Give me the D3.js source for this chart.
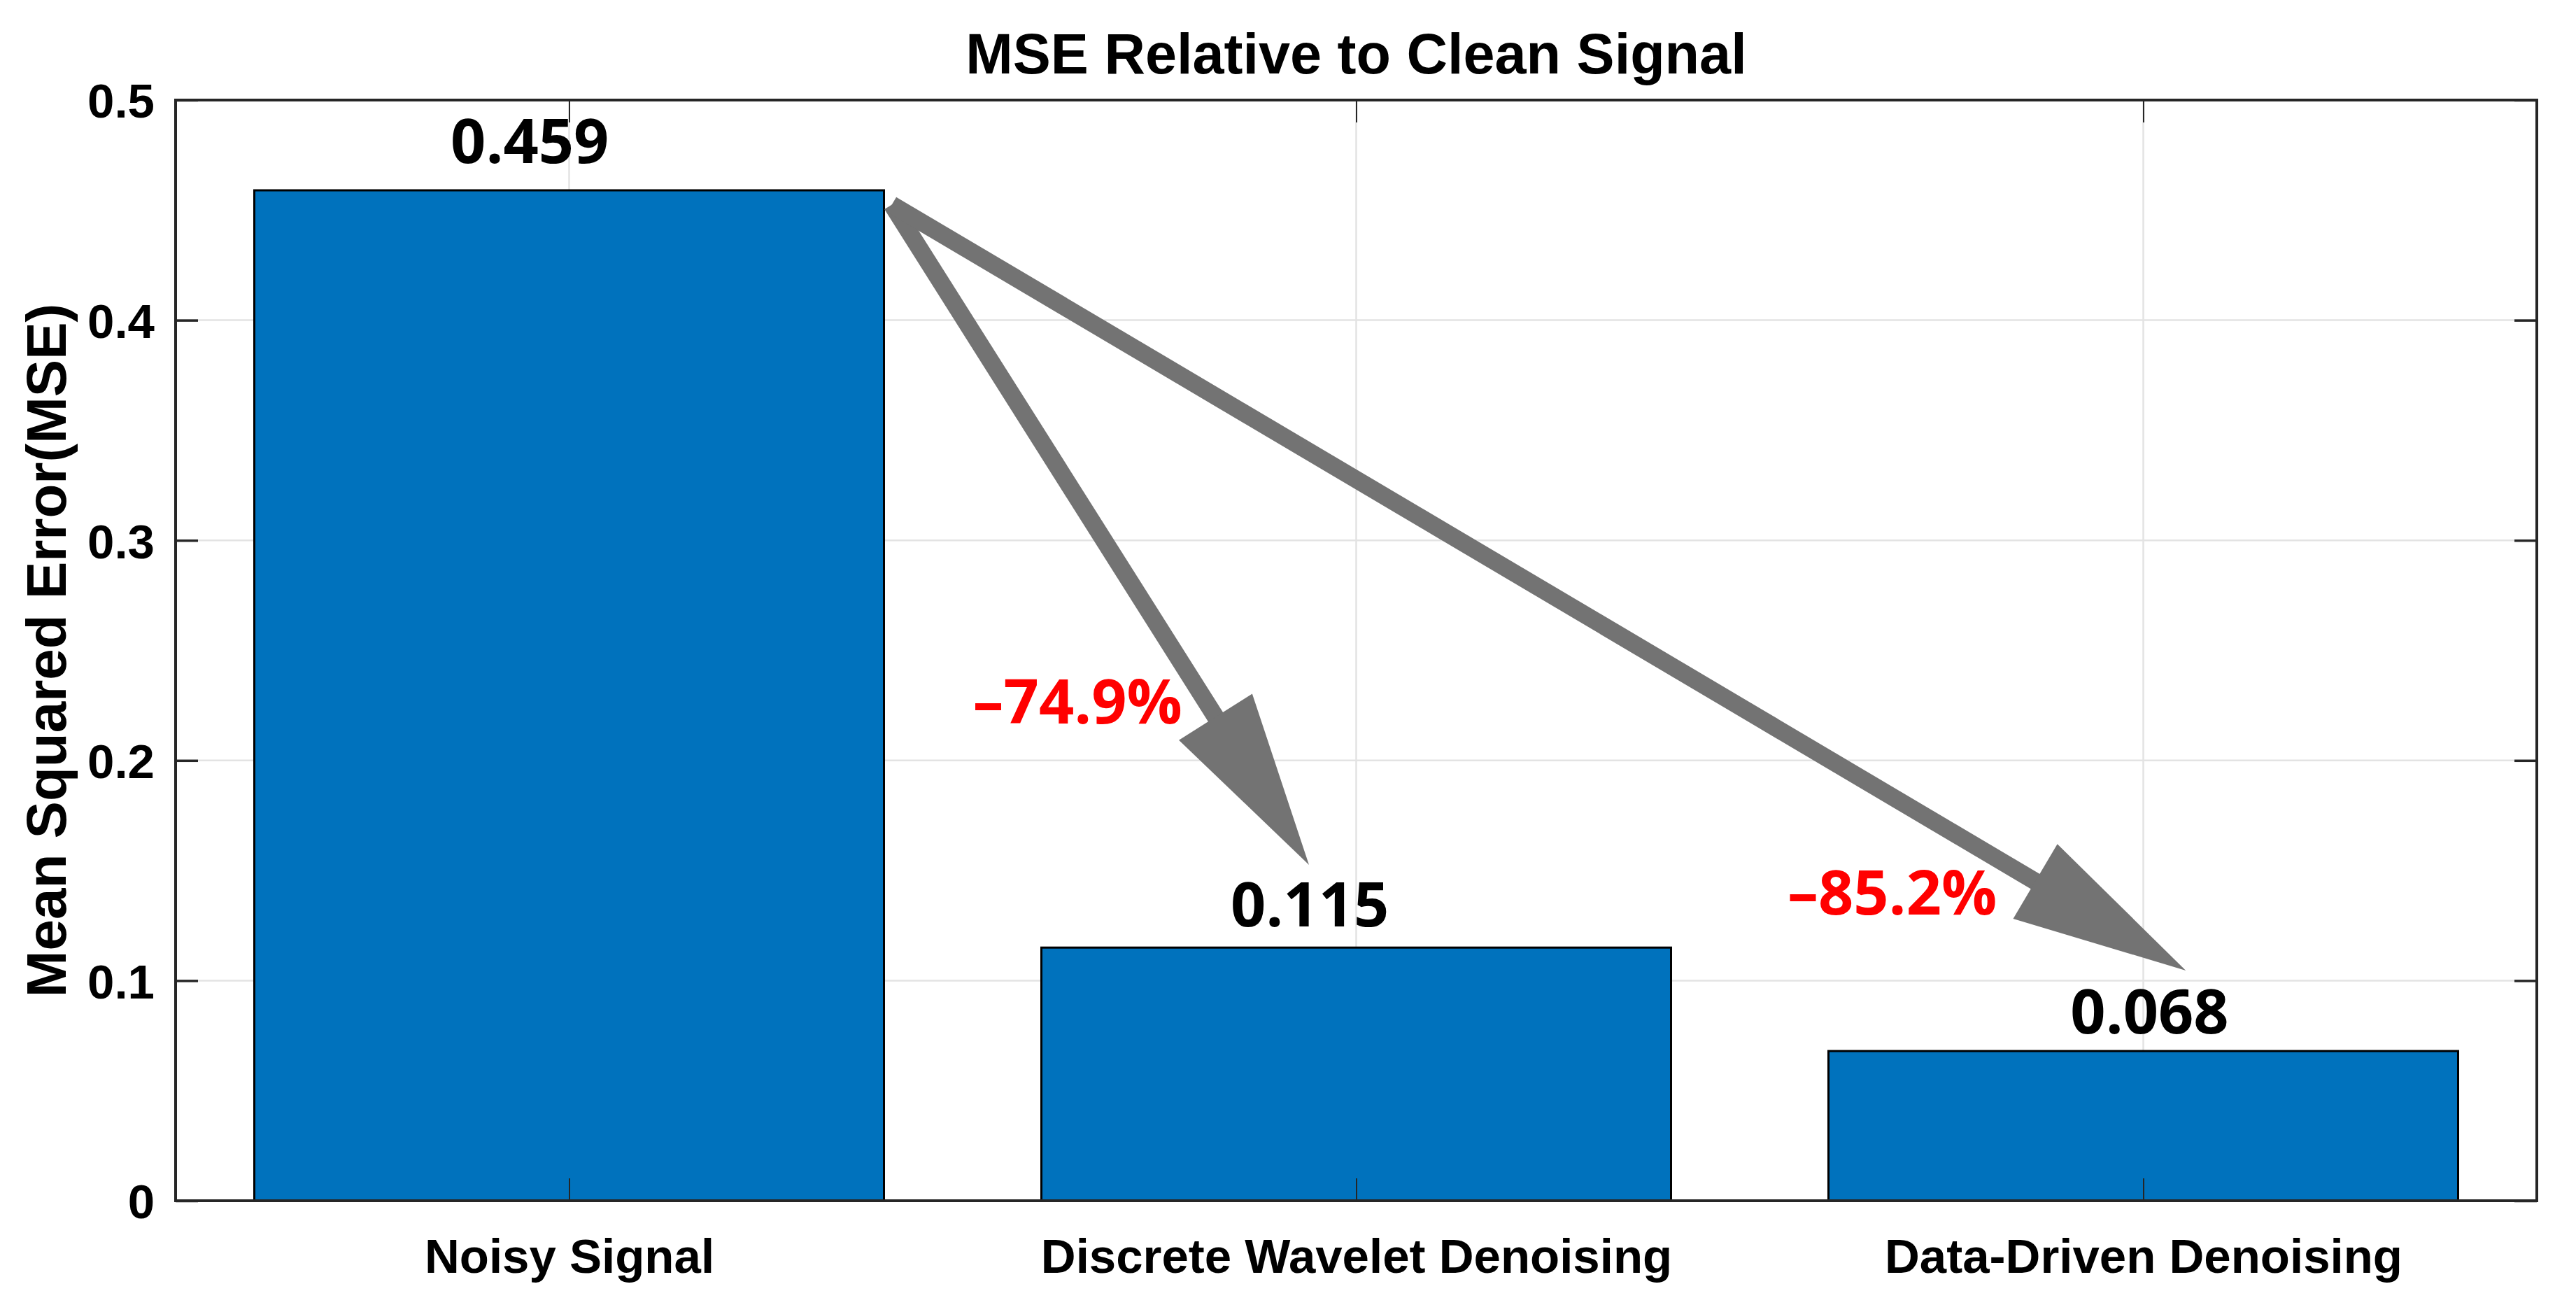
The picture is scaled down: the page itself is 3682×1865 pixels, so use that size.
<!DOCTYPE html>
<html>
<head>
<meta charset="utf-8">
<script src="https://cdn.jsdelivr.net/npm/d3@7"></script>
<style>
  html, body { margin: 0; padding: 0; background: #ffffff; }
  svg { display: block; }
</style>
</head>
<body>
<script>
// ---- Data ----
const categories = ["Noisy Signal", "Discrete Wavelet Denoising", "Data-Driven Denoising"];
const mseValues = [0.459, 0.115, 0.068];
const valueLabels = ["0.459", "0.115", "0.068"];
const yTickValues = [0, 0.1, 0.2, 0.3, 0.4, 0.5];
const yTickLabels = ["0", "0.1", "0.2", "0.3", "0.4", "0.5"];
const reductionLabels = ["\u201374.9%", "\u201385.2%"];
const titleText = "MSE Relative to Clean Signal";
const yLabelText = "Mean Squared Error(MSE)";

// ---- Annotation placement (data units) ----
const valueLabelPos = [[0.95, 0.4714], [1.941, 0.1246], [3.008, 0.076]];
const reductionLabelPos = [[1.646, 0.2168], [2.681, 0.130]];
const arrowStart = [1.41, 0.4525];
const arrowTips = [[1.94, 0.1526], [3.054, 0.1046]];

// ---- Layout ----
const W = 3682, H = 1865;
const plot = { left: 251, right: 3626, top: 143, bottom: 1716 };

const svg = d3.select("body").append("svg")
  .attr("width", W).attr("height", H)
  .attr("viewBox", `0 0 ${W} ${H}`);

svg.append("rect").attr("width", W).attr("height", H).attr("fill", "#ffffff");

const x = d3.scaleLinear().domain([0.5, categories.length + 0.5]).range([plot.left, plot.right]);
const y = d3.scaleLinear().domain([0, 0.5]).range([plot.bottom, plot.top]);

const axisFont = "'Liberation Sans', Arial, Helvetica, sans-serif";
const annFont = "'Open Sans', 'Noto Sans', sans-serif";
const axisColor = "#262626";
const gridColor = "#e3e3e3";
const tickLen = 32;

// ---- Grid ----
const grid = svg.append("g");
grid.selectAll("line.hg").data(yTickValues.slice(1, -1)).enter().append("line")
  .attr("x1", plot.left).attr("x2", plot.right)
  .attr("y1", d => y(d)).attr("y2", d => y(d))
  .attr("stroke", gridColor).attr("stroke-width", 2.5);
grid.selectAll("line.vg").data(categories.map((c, i) => i + 1)).enter().append("line")
  .attr("x1", d => x(d)).attr("x2", d => x(d))
  .attr("y1", plot.top).attr("y2", plot.bottom)
  .attr("stroke", gridColor).attr("stroke-width", 2.5);

// ---- Bars ----
const barW = 0.8;
svg.append("g").selectAll("rect").data(mseValues).enter().append("rect")
  .attr("x", (d, i) => x(i + 1 - barW / 2))
  .attr("width", (d, i) => x(i + 1 + barW / 2) - x(i + 1 - barW / 2))
  .attr("y", d => y(d))
  .attr("height", d => y(0) - y(d))
  .attr("fill", "#0072BD")
  .attr("stroke", "#000000")
  .attr("stroke-width", 3);

// ---- Axes (box with inward ticks) ----
const yAxisL = d3.axisLeft(y).tickValues(yTickValues).tickSize(-tickLen).tickPadding(30)
  .tickFormat((d, i) => yTickLabels[i]);
const gL = svg.append("g").attr("transform", `translate(${plot.left},0)`).call(yAxisL);
gL.select(".domain").remove();
gL.selectAll(".tick line").attr("stroke", axisColor).attr("stroke-width", 3.5);
gL.selectAll(".tick text")
  .attr("font-family", axisFont).attr("font-size", 69).attr("font-weight", "bold")
  .attr("fill", "#000000").attr("dy", "0.36em");

const yAxisR = d3.axisRight(y).tickValues(yTickValues).tickSize(-tickLen).tickFormat("");
const gR = svg.append("g").attr("transform", `translate(${plot.right},0)`).call(yAxisR);
gR.select(".domain").remove();
gR.selectAll(".tick line").attr("stroke", axisColor).attr("stroke-width", 3.5);

const xAxisB = d3.axisBottom(x).tickValues(categories.map((c, i) => i + 1))
  .tickSize(-tickLen).tickPadding(0).tickFormat((d, i) => categories[i]);
const gB = svg.append("g").attr("transform", `translate(0,${plot.bottom})`).call(xAxisB);
gB.select(".domain").remove();
gB.selectAll(".tick line").attr("stroke", axisColor).attr("stroke-width", 2);
gB.selectAll(".tick text")
  .attr("font-family", axisFont).attr("font-size", 69).attr("font-weight", "bold")
  .attr("fill", "#000000").attr("y", 103).attr("dy", 0);

const xAxisT = d3.axisTop(x).tickValues(categories.map((c, i) => i + 1)).tickSize(-tickLen).tickFormat("");
const gT = svg.append("g").attr("transform", `translate(0,${plot.top})`).call(xAxisT);
gT.select(".domain").remove();
gT.selectAll(".tick line").attr("stroke", axisColor).attr("stroke-width", 2);

// Box outline
svg.append("rect")
  .attr("x", plot.left).attr("y", plot.top)
  .attr("width", plot.right - plot.left).attr("height", plot.bottom - plot.top)
  .attr("fill", "none").attr("stroke", axisColor).attr("stroke-width", 4);

// ---- Title & axis label ----
svg.append("text")
  .attr("x", (plot.left + plot.right) / 2).attr("y", 105)
  .attr("text-anchor", "middle")
  .attr("font-family", axisFont).attr("font-size", 81).attr("font-weight", "bold")
  .attr("fill", "#000000")
  .text(titleText);

svg.append("text")
  .attr("transform", `translate(94,${(plot.top + plot.bottom) / 2}) rotate(-90)`)
  .attr("text-anchor", "middle")
  .attr("font-family", axisFont).attr("font-size", 80).attr("font-weight", "bold")
  .attr("fill", "#000000")
  .text(yLabelText);

// ---- Arrows ----
const arrowColor = "#737373";
const shaftW = 25, headLen = 250, headHalf = 62;
const arrows = svg.append("g");
arrowTips.forEach(tip => {
  const sx = x(arrowStart[0]), sy = y(arrowStart[1]);
  const tx = x(tip[0]), ty = y(tip[1]);
  const dx = tx - sx, dy = ty - sy, len = Math.hypot(dx, dy);
  const ux = dx / len, uy = dy / len;
  const bx = tx - ux * headLen, by = ty - uy * headLen;
  arrows.append("line")
    .attr("x1", sx).attr("y1", sy).attr("x2", bx + ux * 5).attr("y2", by + uy * 5)
    .attr("stroke", arrowColor).attr("stroke-width", shaftW);
  const pts = [
    [tx, ty],
    [bx - uy * headHalf, by + ux * headHalf],
    [bx + uy * headHalf, by - ux * headHalf]
  ];
  arrows.append("polygon")
    .attr("points", pts.map(p => p.join(",")).join(" "))
    .attr("fill", arrowColor);
});

// ---- Value labels ----
svg.append("g").selectAll("text").data(valueLabels).enter().append("text")
  .attr("x", (d, i) => x(valueLabelPos[i][0]))
  .attr("y", (d, i) => y(valueLabelPos[i][1]))
  .attr("text-anchor", "middle")
  .attr("font-family", annFont).attr("font-size", 88).attr("font-weight", 700)
  .attr("fill", "#000000")
  .text(d => d);

// ---- Reduction labels ----
svg.append("g").selectAll("text").data(reductionLabels).enter().append("text")
  .attr("x", (d, i) => x(reductionLabelPos[i][0]))
  .attr("y", (d, i) => y(reductionLabelPos[i][1]))
  .attr("text-anchor", "middle")
  .attr("font-family", annFont).attr("font-size", 88).attr("font-weight", 700)
  .attr("fill", "#ff0000")
  .text(d => d);
</script>
</body>
</html>
